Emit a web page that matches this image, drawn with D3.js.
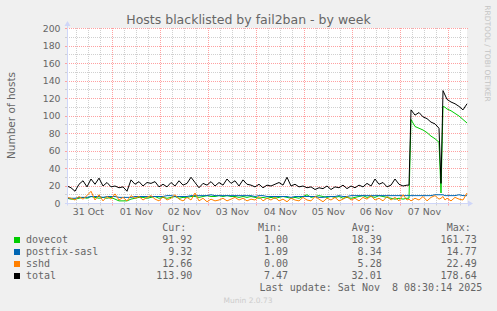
<!DOCTYPE html>
<html><head><meta charset="utf-8">
<script src="https://cdn.jsdelivr.net/npm/d3@7"></script>
<style>html,body{margin:0;padding:0;background:#f0f0f0;}svg{display:block;}text{white-space:pre;}</style>
</head><body><svg id="c" width="497" height="311"></svg>
<script>
const title = "Hosts blacklisted by fail2ban - by week";
const yLabel = "Number of hosts";
const seriesNames = ["dovecot", "postfix-sasl", "sshd", "total"];
const seriesColors = ["#00cc00", "#0066b3", "#ff8000", "#000000"];
const yTicks = [0, 20, 40, 60, 80, 100, 120, 140, 160, 180, 200];
// hours since graph start (2h steps, finer around the jumps)
const hours = d3.range(0, 171, 2).concat([171, 172, 174, 176, 178, 180, 182, 184, 186, 187, 188, 189, 190, 192, 194, 196, 198, 200]);
const dovecot = [6,5,5,6,7,6,8,7,6,7, 6,7,5,3,3,3,5,6,7,7, 6,7,8,6,7,6,7,8,6,7,
  7,8,8,7,8,9,8,8,9,8, 9,8,8,7,8,7,8,7,6,7, 6,7,6,7,8,7,6,7,6,8, 10,7,8,9,8,7,8,7,8,6,
  7,6,7,8,9,7,8,7,9,8, 7,6,5,6,5,6,
  6,96,88,86,84,81,77,74,70,12,111,110,108,106,103,100,96,92];
const postfixSasl = [6,6,6,7,7,7,8,8,8,7, 8,8,8,7,7,7,7,8,8,8, 8,8,8,8,8,9,9,8,8,8,
  8,9,9,9,9,9,10,9,9,9, 9,9,9,9,9,9,9,8,9,9, 8,8,8,8,8,8,7,8,8,8, 8,8,8,7,7,8,8,8,9,8,
  8,9,9,9,9,9,9,9,9,9, 9,9,9,9,9,9,
  9,9,9,9,9,9,9,10,10,10,10,9,9,9,9,10,9,9];
const sshd = [7,6,4,8,5,9,14,4,10,3, 8,5,11,4,7,3,9,6,8,4, 7,9,5,3,8,4,6,10,5,3,
  7,4,12,3,6,2,5,3,4,6, 3,5,7,4,6,3,5,4,8,3, 6,4,7,3,5,2,6,4,3,7, 4,3,8,5,2,6,4,7,3,5,
  8,4,6,3,7,5,9,4,6,3, 8,4,7,3,10,4,
  5,3,6,4,8,3,7,9,5,6,8,4,6,3,7,5,4,12];
const total = [20,18,14,22,26,19,28,22,29,20, 24,19,20,18,19,14,27,22,25,20, 24,23,25,19,22,19,24,20,26,21,
  23,30,24,18,23,21,25,20,24,21, 28,23,26,20,27,22,21,19,22,18, 21,20,22,24,21,30,20,22,19,20,
  18,19,16,18,17,20,16,19,18,21, 17,20,18,21,19,23,20,28,22,24, 19,21,28,22,20,21,
  21,107,101,104,99,97,93,91,86,23,129,124,119,116,114,111,107,114];
const curVals = ["91.92", "9.32", "12.66", "113.90"];
const minVals = ["1.00", "1.09", "0.00", "7.47"];
const avgVals = ["18.39", "8.34", "5.28", "32.01"];
const maxVals = ["161.73", "14.77", "22.49", "178.64"];
const colHeaders = ["Cur:", "Min:", "Avg:", "Max:"];
const lastUpdate = "Last update: Sat Nov  8 08:30:14 2025";
const version = "Munin 2.0.73";
const watermark = "RRDTOOL / TOBI OETIKER";

const series = [dovecot, postfixSasl, sshd, total];
const t0 = new Date(Date.UTC(2025, 9, 31, 1, 20));
const t1 = new Date(t0.getTime() + 200 * 3600e3);
const X0 = 67, X1 = 467, YB = 203.5, YT = 28.5;
const x = d3.scaleUtc().domain([t0, t1]).range([X0, X1]);
const y = d3.scaleLinear().domain([0, 200]).range([YB, YT]);
const px = v => Math.round(v - 0.5) + 0.5;

const svg = d3.select("#c");
const FONT = "DejaVu Sans, sans-serif", MONO = "DejaVu Sans Mono, monospace";
const TXT = "#666666";

svg.append("rect").attr("width", 497).attr("height", 311).attr("fill", "#f0f0f0");
svg.append("rect").attr("x", X0).attr("y", YT - 0.5).attr("width", X1 - X0).attr("height", YB - YT).attr("fill", "#ffffff");

// title
svg.append("text").attr("x", 248.5).attr("y", 24).attr("text-anchor", "middle")
  .attr("font-family", FONT).attr("font-size", 12.5).attr("fill", TXT).text(title);
// y label
svg.append("text").attr("transform", "translate(15,115.5) rotate(-90)").attr("text-anchor", "middle")
  .attr("font-family", FONT).attr("font-size", 10.5).attr("fill", TXT).text(yLabel);
// watermark
svg.append("text").attr("transform", "translate(484.5,53.5) rotate(90)").attr("text-anchor", "middle")
  .attr("font-family", FONT).attr("font-size", 7.5).attr("fill", "#c4c4c4").text(watermark);

const gridMinor = "#d0d0d0", gridMajor = "#ffa1a1";
const g = svg.append("g");
// horizontal grid
const hMinor = d3.range(10, 200, 20), hMajor = yTicks.filter(v => v > 0);
[[hMinor, gridMinor], [hMajor, gridMajor]].forEach(([vals, col]) => {
  g.selectAll(null).data(vals).enter().append("line")
    .attr("x1", X0).attr("x2", X1 + 2).attr("y1", d => px(y(d))).attr("y2", d => px(y(d)))
    .attr("stroke", col).attr("stroke-dasharray", "1,1");
  g.selectAll(null).data(vals).enter().append("line")
    .attr("x1", X0 - 2).attr("x2", X0).attr("y1", d => px(y(d))).attr("y2", d => px(y(d)))
    .attr("stroke", col);
});
// vertical grid
const days = d3.utcDay.range(t0, t1);
const sixH = d3.utcHour.every(6).range(t0, t1).filter(d => d.getUTCHours() !== 0);
[[sixH, gridMinor], [days, gridMajor]].forEach(([vals, col]) => {
  g.selectAll(null).data(vals).enter().append("line")
    .attr("x1", d => px(x(d))).attr("x2", d => px(x(d))).attr("y1", YT - 0.5).attr("y2", YB)
    .attr("stroke", col).attr("stroke-dasharray", "1,1");
  g.selectAll(null).data(vals).enter().append("line")
    .attr("x1", d => px(x(d))).attr("x2", d => px(x(d))).attr("y1", YB).attr("y2", YB + 2)
    .attr("stroke", col);
});

// y tick labels
svg.append("g").selectAll("text").data(yTicks).enter().append("text")
  .attr("x", 60.5).attr("y", d => y(d) + 3.2).attr("text-anchor", "end")
  .attr("font-family", FONT).attr("font-size", 9.3).attr("fill", TXT).text(d => d);
// x tick labels at noon
const noons = d3.utcDay.range(d3.utcDay.floor(t0), t1).map(d => d3.utcHour.offset(d, 12)).filter(d => d > t0 && d < t1);
const fmt = d3.utcFormat("%d %b");
svg.append("g").selectAll("text").data(noons).enter().append("text")
  .attr("x", d => x(d)).attr("y", 215).attr("text-anchor", "middle")
  .attr("font-family", FONT).attr("font-size", 9.4).attr("fill", TXT).text(d => fmt(d));

// data lines
const tOf = h => new Date(t0.getTime() + h * 3600e3);
const line = d3.line().x((d, i) => x(tOf(hours[i]))).y(d => y(d));
series.forEach((s, k) => {
  svg.append("path").attr("d", line(s)).attr("fill", "none")
    .attr("stroke", seriesColors[k]).attr("stroke-width", 1).attr("stroke-linejoin", "round");
});

// axes
const AX = "#cfd6f8";
svg.append("line").attr("x1", X0 + 0.5).attr("x2", X0 + 0.5).attr("y1", YB + 2).attr("y2", 25).attr("stroke", AX);
svg.append("path").attr("d", `M${X0 - 2.5},26 L${X0 + 3.5},26 L${X0 + 0.5},21 Z`).attr("fill", AX);
svg.append("line").attr("x1", X0 - 2).attr("x2", X1 + 2).attr("y1", YB).attr("y2", YB).attr("stroke", AX);
svg.append("path").attr("d", `M${X1 + 1},${YB - 3} L${X1 + 1},${YB + 3} L${X1 + 6},${YB} Z`).attr("fill", AX);

// legend
const rightEdges = [192.3, 288, 381.7, 476.7];
const cols = [curVals, minVals, avgVals, maxVals];
const leg = svg.append("g").attr("font-family", MONO).attr("font-size", 10).attr("fill", TXT);
colHeaders.forEach((h, j) => {
  leg.append("text").attr("x", rightEdges[j] - 30).attr("y", 231.3).text(h);
});
seriesNames.forEach((n, i) => {
  const by = 243 + 12 * i;
  leg.append("rect").attr("x", 14).attr("y", by - 6).attr("width", 6).attr("height", 6).attr("fill", seriesColors[i]);
  leg.append("text").attr("x", 26).attr("y", by).text(n);
  cols.forEach((c, j) => {
    leg.append("text").attr("x", rightEdges[j]).attr("y", by).attr("text-anchor", "end").text(c[i]);
  });
});
leg.append("text").attr("x", 482.3).attr("y", 291).attr("text-anchor", "end").text(lastUpdate);
svg.append("text").attr("x", 248).attr("y", 302.7).attr("text-anchor", "middle")
  .attr("font-family", FONT).attr("font-size", 7.5).attr("fill", "#cccccc").text(version);
</script>
</body></html>
